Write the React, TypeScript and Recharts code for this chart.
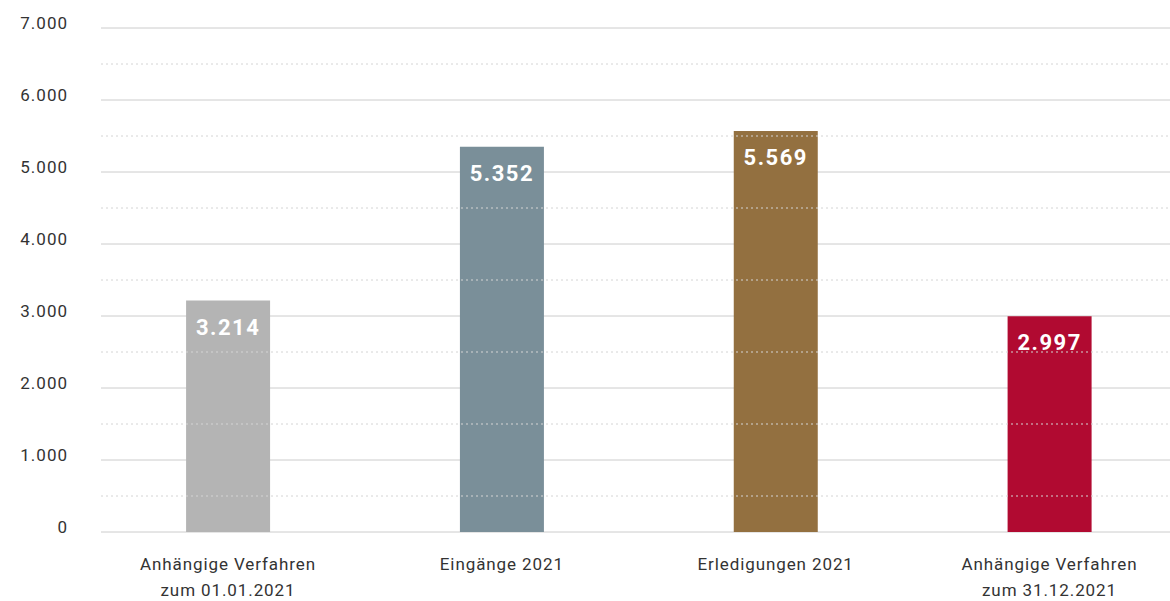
import { Bar, BarChart, CartesianGrid, Cell, LabelList, ReferenceLine, XAxis, YAxis } from "recharts";

const categories = [
  ["Anhängige Verfahren", "zum 01.01.2021"],
  ["Eingänge 2021"],
  ["Erledigungen 2021"],
  ["Anhängige Verfahren", "zum 31.12.2021"],
];
const values = [3214, 5352, 5569, 2997];
const colors = ["#b4b4b4", "#7a8f99", "#937040", "#b10a31"];
const yTicks = [0, 1000, 2000, 3000, 4000, 5000, 6000, 7000];
const halfTicks = [500, 1500, 2500, 3500, 4500, 5500, 6500];

const data = values.map((v, i) => ({ x: i, value: v }));

const fmt = (n: number) => n.toLocaleString("de-DE");
const font = "Roboto, 'Noto Sans', sans-serif";

function YTick({ y, payload }: any) {
  return (
    <text x={68} y={y + 1} textAnchor="end" fontSize={17} fill="#333" fontFamily={font} letterSpacing={1}>
      {fmt(payload.value)}
    </text>
  );
}

function XTick({ x, payload }: any) {
  const lines = categories[payload.value] || [];
  return (
    <g>
      {lines.map((l, i) => (
        <text
          key={i}
          x={x}
          y={570 + i * 26}
          textAnchor="middle"
          fontSize={17}
          fill="#333"
          fontFamily={font}
          letterSpacing={0.9}
        >
          {l}
        </text>
      ))}
    </g>
  );
}

function ValueLabel({ x, y, width, value }: any) {
  return (
    <text
      x={x + width / 2}
      y={y + 34}
      textAnchor="middle"
      fontSize={22}
      fontWeight="bold"
      fill="#fff"
      fontFamily={font}
      letterSpacing={1.5}
    >
      {fmt(value)}
    </text>
  );
}

export default function App() {
  return (
    <div style={{ position: "absolute", left: 0, top: 0, background: "#fff" }}>
      <BarChart width={1170} height={601} data={data} margin={{ top: 28, right: 0, left: 0, bottom: 0 }}>
        <CartesianGrid vertical={false} stroke="#cccccc" />
        {halfTicks.map((t) => (
          <ReferenceLine key={t} y={t} stroke="#d4d4d4" strokeDasharray="2 3" />
        ))}
        <XAxis
          type="number"
          dataKey="x"
          domain={[-0.4638, 3.44]}
          ticks={[0, 1, 2, 3]}
          allowDataOverflow
          axisLine={false}
          tickLine={false}
          height={69}
          tick={<XTick />}
        />
        <YAxis
          width={101}
          domain={[0, 7000]}
          ticks={yTicks}
          axisLine={false}
          tickLine={false}
          tick={<YTick />}
        />
        <Bar dataKey="value" barSize={84} isAnimationActive={false}>
          {data.map((d, i) => (
            <Cell key={i} fill={colors[i]} />
          ))}
          <LabelList dataKey="value" content={<ValueLabel />} />
        </Bar>
      </BarChart>
    </div>
  );
}
